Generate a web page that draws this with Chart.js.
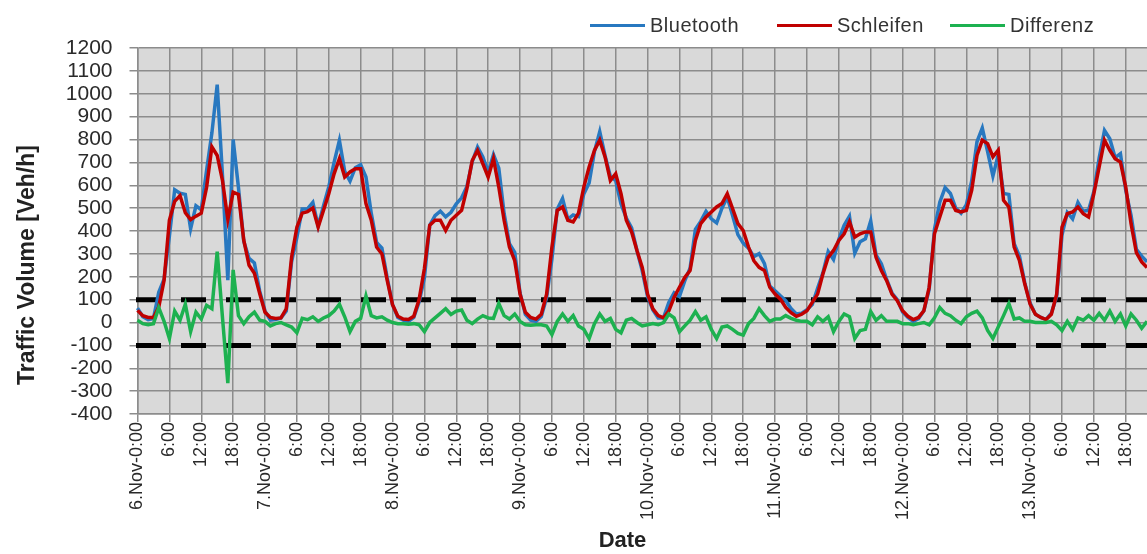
<!DOCTYPE html>
<html>
<head>
<meta charset="utf-8">
<script src="https://cdn.jsdelivr.net/npm/chart.js@4.4.1/dist/chart.umd.min.js"></script>
<style>
  html, body { margin: 0; padding: 0; background: #fff; overflow: hidden; }
  #wrap { position: relative; width: 1147px; height: 554px; }
  canvas { display: block; }
  .key { position: absolute; top: 13px; height: 24px; display: flex; align-items: center;
         font: 20px "Liberation Sans", Arial, sans-serif; color: #333; letter-spacing: 0.5px; }
  .key i { display: inline-block; width: 55px; height: 3px; margin-right: 5px; }
</style>
</head>
<body>
<div id="wrap">
  <canvas id="chart" width="1147" height="554"></canvas>
  <div class="key" style="left:590px"><i style="background:#2878c0"></i>Bluetooth</div>
  <div class="key" style="left:777px"><i style="background:#c00000"></i>Schleifen</div>
  <div class="key" style="left:950px"><i style="background:#1db150"></i>Differenz</div>
</div>
<script>
// ——— Data (hourly, starting 6.Nov 0:00) ———
var DAYS = ["6.Nov", "7.Nov", "8.Nov", "9.Nov", "10.Nov", "11.Nov", "12.Nov", "13.Nov"];

var BLUETOOTH = [
  63, 25, 12, 17, 132, 189, 377, 580, 565, 560, 410, 510, 493, 665, 828, 1040, 640, 185, 800, 590, 355, 280, 260, 137,
  50, 10, 13, 20, 50, 265, 372, 496, 497, 525, 422, 510, 593, 700, 796, 661, 618, 677, 690, 636, 477, 350, 325, 194,
  78, 22, 10, 5, 22, 90, 196, 425, 467, 487, 462, 482, 519, 545, 595, 703, 767, 724, 656, 734, 675, 477, 345, 307, 129,
  35, 10, 5, 26, 109, 277, 495, 542, 452, 470, 463, 562, 610, 747, 834, 729, 639, 620, 518, 457, 414, 315, 226, 114,
  55, 20, 20, 88, 130, 114, 182, 237, 407, 442, 486, 453, 435, 500, 548, 468, 384, 347, 325, 288, 301, 257, 159, 139,
  117, 96, 61, 37, 41, 56, 78, 149, 217, 310, 275, 364, 425, 465, 303, 353, 366, 444, 295, 257, 188, 129, 100, 46,
  22, 5, 17, 51, 144, 408, 526, 590, 564, 500, 478, 515, 618, 790, 850, 747, 640, 733, 564, 560, 345, 290, 173, 85,
  36, 22, 13, 41, 114, 382, 481, 453, 525, 486, 491, 573, 720, 840, 803, 721, 738, 577, 469, 320, 290, 265
];

var SCHLEIFEN = [
  53, 30, 22, 22, 67, 184, 447, 530, 555, 480, 450, 465, 478, 590, 768, 730, 620, 450, 570, 560, 360, 250, 215, 127,
  45, 22, 18, 20, 60, 285, 417, 478, 485, 500, 417, 490, 563, 650, 716, 636, 658, 672, 672, 520, 447, 330, 300, 184,
  78, 27, 15, 13, 27, 100, 236, 425, 447, 447, 402, 447, 469, 490, 585, 708, 752, 694, 636, 716, 592, 447, 330, 270, 124,
  45, 22, 15, 36, 124, 330, 490, 505, 447, 440, 478, 592, 680, 752, 797, 724, 621, 650, 563, 447, 396, 315, 241, 124,
  60, 30, 20, 51, 110, 154, 197, 227, 359, 432, 461, 483, 505, 520, 563, 498, 432, 402, 330, 270, 241, 227, 154, 124,
  102, 66, 43, 27, 36, 51, 88, 124, 212, 285, 315, 359, 388, 440, 373, 388, 396, 396, 285, 227, 183, 124, 95, 51,
  27, 13, 22, 51, 154, 388, 461, 534, 534, 490, 483, 490, 578, 730, 797, 782, 724, 753, 534, 505, 330, 270, 168, 80,
  36, 22, 13, 36, 124, 417, 476, 483, 505, 476, 461, 563, 680, 797, 753, 716, 701, 592, 432, 305, 265, 240
];

var DIFFERENZ = [
  10, -5, -10, -5, 65, 5, -70, 50, 10, 80, -40, 45, 15, 75, 60, 310, 20, -265, 230, 30, -5, 25, 45, 10,
  5, -15, -5, 0, -10, -20, -45, 18, 12, 25, 5, 20, 30, 50, 80, 25, -40, 5, 18, 116, 30, 20, 25, 10,
  0, -5, -5, -8, -5, -10, -40, 0, 20, 40, 60, 35, 50, 55, 10, -5, 15, 30, 20, 18, 83, 30, 15, 37, 5,
  -10, -12, -10, -10, -15, -53, 5, 37, 5, 30, -15, -30, -70, -5, 37, 5, 18, -30, -45, 10, 18, 0, -15, -10,
  -5, -10, 0, 37, 20, -40, -15, 10, 48, 10, 25, -30, -70, -20, -15, -30, -48, -55, -5, 18, 60, 30, 5, 15,
  15, 30, 18, 10, 5, 5, -10, 25, 5, 25, -40, 5, 37, 25, -70, -35, -30, 48, 10, 30, 5, 5, 5, -5,
  -5, -10, -5, 0, -10, 20, 65, 40, 30, 10, -5, 25, 40, 50, 20, -35, -70, -20, 30, 83, 15, 20, 5, 5,
  0, 0, 0, 5, -10, -35, 5, -30, 20, 10, 30, 10, 40, 10, 50, 5, 37, -15, 37, 10, -25, 5
];

var LIMITS = [100, -100];
var Y_TITLE = "Traffic Volume [Veh/h]";
var X_TITLE = "Date";

// hourly category labels: "6.Nov-0:00", "1:00", ... "23:00", "7.Nov-0:00", ...
var hourLabels = SCHLEIFEN.map(function (_, i) {
  var h = i % 24;
  return h === 0 ? DAYS[Math.floor(i / 24)] + "-0:00" : h + ":00";
});

var FONT = '"Liberation Sans", Arial, sans-serif';
var GRID = "#8c8c8c";

// ——— Plot background ———
var plotBg = {
  id: "plotBg",
  beforeDraw: function (chart) {
    var a = chart.chartArea, ctx = chart.ctx;
    ctx.save();
    ctx.fillStyle = "#d9d9d9";
    ctx.fillRect(a.left, a.top, a.right - a.left, a.bottom - a.top);
    ctx.restore();
  }
};

// ——— ±100 limit lines ———
var limitLines = {
  id: "limitLines",
  beforeDatasetsDraw: function (chart) {
    var a = chart.chartArea, ctx = chart.ctx, y = chart.scales.y;
    ctx.save();
    ctx.strokeStyle = "#000";
    ctx.lineWidth = 5;
    ctx.setLineDash([25, 20]);
    LIMITS.forEach(function (v) {
      var py = y.getPixelForValue(v);
      ctx.beginPath();
      ctx.moveTo(a.left - 1.5, py);
      ctx.lineTo(a.right, py);
      ctx.stroke();
    });
    ctx.restore();
  }
};

// ——— Axis titles ———
var axisTitles = {
  id: "axisTitles",
  afterDraw: function (chart) {
    var a = chart.chartArea, ctx = chart.ctx;
    ctx.save();
    ctx.fillStyle = "#222";
    ctx.textAlign = "center";
    ctx.textBaseline = "middle";
    ctx.font = "bold 23px " + FONT;
    ctx.translate(28, a.top + 217);
    ctx.rotate(-Math.PI / 2);
    ctx.fillText(Y_TITLE, 0, 0);
    ctx.restore();
    ctx.save();
    ctx.fillStyle = "#222";
    ctx.textAlign = "center";
    ctx.textBaseline = "middle";
    ctx.font = "bold 22px " + FONT;
    ctx.fillText(X_TITLE, a.left + 485, 541);
    ctx.restore();
  }
};

new Chart(document.getElementById("chart"), {
  type: "line",
  data: {
    labels: hourLabels,
    datasets: [
      { label: "Bluetooth", data: BLUETOOTH, borderColor: "#2878c0", order: 3 },
      { label: "Schleifen", data: SCHLEIFEN, borderColor: "#c00000", order: 2 },
      { label: "Differenz", data: DIFFERENZ, borderColor: "#1db150", order: 1 }
    ]
  },
  options: {
    responsive: false,
    animation: false,
    layout: { padding: { top: 48, left: 0, right: 0, bottom: 0 } },
    elements: {
      point: { radius: 0 },
      line: { tension: 0, borderWidth: 3.5, fill: false }
    },
    plugins: { legend: { display: false }, tooltip: { enabled: false } },
    scales: {
      x: {
        type: "category",
        grid: { color: GRID, lineWidth: 1.5, tickLength: 8 },
        border: { color: GRID, width: 1.5 },
        ticks: {
          autoSkip: false, minRotation: 90, maxRotation: 90, padding: 0,
          color: "#2a2a2a", font: { family: FONT, size: 18, lineHeight: 1.0 }
        },
        afterBuildTicks: function (scale) {
          scale.ticks = scale.ticks.filter(function (t) { return t.value % 6 === 0; });
        },
        afterFit: function (scale) { scale.height = 140; }
      },
      y: {
        min: -400, max: 1200,
        grid: { color: GRID, lineWidth: 1.5, tickLength: 8 },
        border: { color: GRID, width: 1.5 },
        ticks: {
          stepSize: 100, autoSkip: false, padding: 17, color: "#2a2a2a",
          font: { family: FONT, size: 21, lineHeight: 1.0 },
          callback: function (v) { return String(v); }
        },
        afterFit: function (scale) { scale.width = 137.5; }
      }
    }
  },
  plugins: [plotBg, limitLines, axisTitles]
});
</script>
</body>
</html>
